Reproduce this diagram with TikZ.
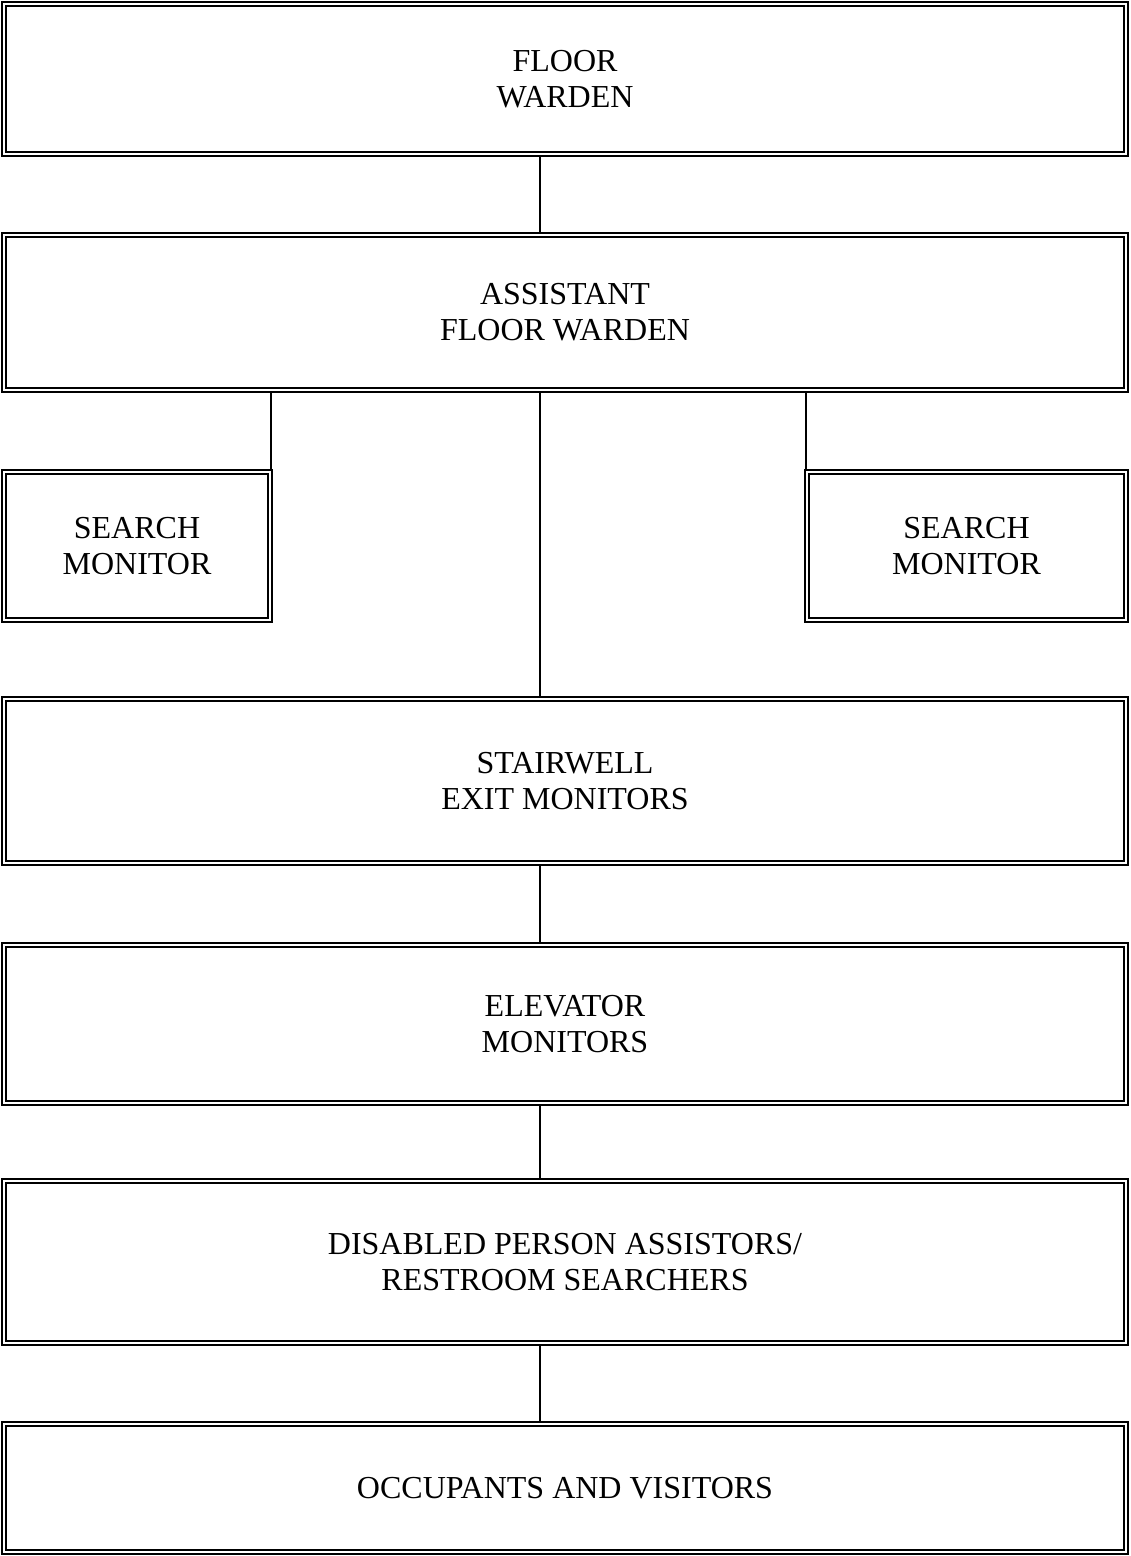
\documentclass[tikz,border=0pt]{standalone}
\usepackage{fontspec}
\setmainfont{Liberation Serif}
\usetikzlibrary{backgrounds}
\begin{document}
\begin{tikzpicture}[x=0.5pt,y=-0.5pt,
  dbox/.style 2 args={draw=black, line width=1.15pt, double=white, double distance=0.8pt,
    rectangle, inner sep=0pt, outer sep=1.55pt,
    minimum width=#1*0.5pt, minimum height=#2*0.5pt,
    align=center, font=\fontsize{16}{18}\selectfont},
  link/.style={draw=black, line width=1.15pt}]
\useasboundingbox (0,0) rectangle (1130,1556);
\node[dbox={1122}{150}] (fw) at (565,79) {FLOOR\\WARDEN};
\node[dbox={1122}{155}] (afw) at (565,312.5) {ASSISTANT\\FLOOR WARDEN};
\node[dbox={266}{148}] (sml) at (137,546) {SEARCH\\MONITOR};
\node[dbox={319}{148}] (smr) at (966.5,546) {SEARCH\\MONITOR};
\node[dbox={1122}{164}] (sem) at (565,781) {STAIRWELL\\EXIT MONITORS};
\node[dbox={1122}{158}] (em) at (565,1024) {ELEVATOR\\MONITORS};
\node[dbox={1122}{162}] (dpa) at (565,1262) {DISABLED PERSON ASSISTORS/\\RESTROOM SEARCHERS};
\node[dbox={1122}{128}] (ov) at (565,1488) {OCCUPANTS AND VISITORS};
\coordinate (lt) at ([xshift=-1pt]sml.north east |- afw.south);
\coordinate (lb) at ([xshift=-1pt]sml.north east);
\coordinate (rt) at ([xshift=1pt]smr.north west |- afw.south);
\coordinate (rb) at ([xshift=1pt]smr.north west);
\begin{scope}[on background layer]
\draw[link] ([xshift=-12.5pt]fw.south) -- ([xshift=-12.5pt]afw.north);
\draw[link] (lt) -- (lb);
\draw[link] (rt) -- (rb);
\draw[link] ([xshift=-12.5pt]afw.south) -- ([xshift=-12.5pt]sem.north);
\draw[link] ([xshift=-12.5pt]sem.south) -- ([xshift=-12.5pt]em.north);
\draw[link] ([xshift=-12.5pt]em.south) -- ([xshift=-12.5pt]dpa.north);
\draw[link] ([xshift=-12.5pt]dpa.south) -- ([xshift=-12.5pt]ov.north);
\end{scope}
\end{tikzpicture}
\end{document}
